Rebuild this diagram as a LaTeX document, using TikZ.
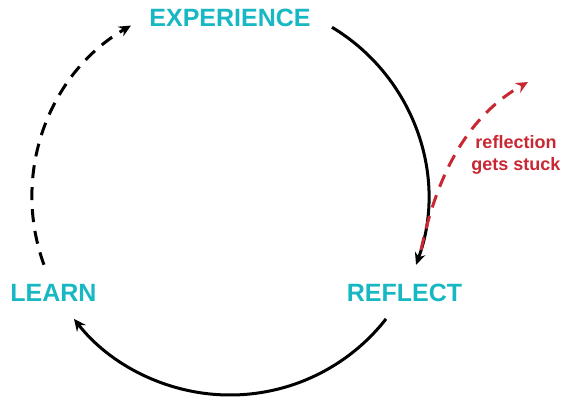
\documentclass[tikz,border=0pt]{standalone}
\usepackage{xcolor}
\usepackage{fontspec}
\setmainfont{Liberation Sans}
\usepackage{tikz}
\usetikzlibrary{arrows.meta}
\definecolor{cyteal}{RGB}{23,184,196}
\definecolor{cyred}{RGB}{200,40,52}

\begin{document}
\begin{tikzpicture}[x=1pt, y=1pt,
    stage/.style={font=\fontsize{25}{30}\selectfont\bfseries, text=cyteal, inner sep=0pt},
    flow/.style={line width=3pt, -{Stealth[length=12pt, width=11pt]}},
    loose/.style={flow, dash pattern=on 13pt off 9pt}]
    \useasboundingbox (0,0) rectangle (570,398);
    \coordinate (c) at (230,201);

    \node[stage] (exp) at (230,380.5) {EXPERIENCE};
    \node[stage] (refl) at (404.5,105.5) {REFLECT};
    \node[stage] (learn) at (53.5,105.5) {LEARN};
    \node[font=\fontsize{18}{22}\selectfont\bfseries, text=cyred, align=center,
          inner sep=0pt] (stuck) at (516,243) {reflection\\gets stuck};

    \coordinate (exp-out) at ([shift={(59:198)}]c);
    \coordinate (refl-out) at ([shift={(-38:198)}]c);
    \coordinate (learn-out) at ([shift={(200:198)}]c);
    \coordinate (stuck-in) at (421,148);
    \coordinate (stuck-out) at (528,316);

    \draw[flow] (exp-out) arc[start angle=59, end angle=-20, radius=198];
    \draw[flow] (refl-out) arc[start angle=-38, end angle=-142, radius=198];
    \draw[loose] (learn-out) arc[start angle=200, end angle=120, radius=198];
    \draw[loose, cyred] (stuck-in) .. controls (438,228) and (470,283) .. (stuck-out);
\end{tikzpicture}
\end{document}
